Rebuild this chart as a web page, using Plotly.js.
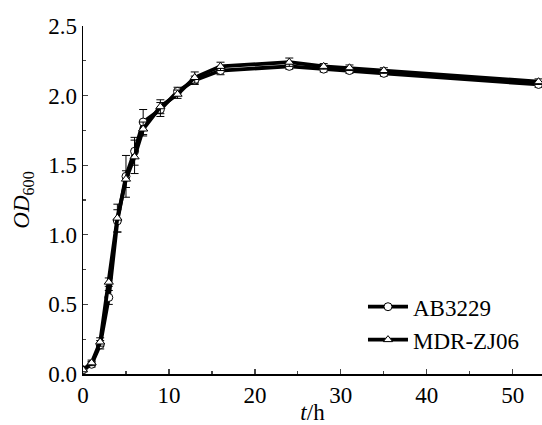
<!DOCTYPE html>
<html><head><meta charset="utf-8">
<script src="https://cdn.plot.ly/plotly-3.0.1.min.js"></script>
<style>html,body{margin:0;padding:0;background:#fff}#c{width:542px;height:425px}</style>
</head><body><div id="c"></div>
<script>
const time = [0,1,2,3,4,5,6,7,9,11,13,16,24,28,31,35,53];
const ab3229 = [0.03,0.07,0.21,0.55,1.10,1.42,1.60,1.81,1.90,2.03,2.11,2.18,2.21,2.19,2.18,2.16,2.08];
const ab3229Err = [0.01,0.02,0.03,0.05,0.08,0.15,0.10,0.09,0.05,0.03,0.03,0.03,0.02,0.02,0.02,0.02,0.02];
const mdr = [0.03,0.08,0.23,0.66,1.12,1.40,1.56,1.76,1.92,2.01,2.13,2.21,2.24,2.21,2.20,2.18,2.10];
const mdrErr = [0.01,0.02,0.03,0.03,0.10,0.06,0.12,0.05,0.05,0.03,0.04,0.03,0.03,0.02,0.02,0.02,0.02];
const names = ['AB3229','MDR-ZJ06'];

function tr(y, err, name, sym){
  return {x: time, y: y, name: name, type:'scatter', mode:'lines+markers',
    line:{color:'#000', width:3.8},
    marker:{symbol:sym, size:8, color:'#fff', line:{color:'#000', width:1}},
    error_y:{type:'data', array:err, visible:true, color:'#000', thickness:1, width:4}};
}
const data = [tr(ab3229, ab3229Err, names[0], 'circle'), tr(mdr, mdrErr, names[1], 'triangle-up')];
const F = 'Liberation Serif';
const layout = {
  width:542, height:425, margin:{l:83, r:0, t:26, b:51},
  paper_bgcolor:'#fff', plot_bgcolor:'#fff',
  font:{family:F, size:23, color:'#000'},
  showlegend:true,
  legend:{x:0.61, y:0.255, xanchor:'left', yanchor:'top', bgcolor:'rgba(0,0,0,0)', font:{family:F, size:23}, tracegroupgap:0, itemwidth:40},
  xaxis:{range:[0,53.4], tickvals:[0,10,20,30,40,50], ticks:'inside', ticklen:5, tickwidth:1.2,
    minor:{dtick:5, ticks:'inside', ticklen:3, tickwidth:1.2},
    showline:true, linecolor:'#000', linewidth:1.5, showgrid:false, zeroline:false,
    tickfont:{family:F, size:23}, title:{text:'<i>t</i>/h', font:{family:F, size:23}, standoff:0}},
  yaxis:{range:[0,2.5], tickvals:[0,0.5,1,1.5,2,2.5], ticktext:['0.0','0.5','1.0','1.5','2.0','2.5'],
    ticks:'inside', ticklen:5, tickwidth:1.2,
    minor:{dtick:0.25, ticks:'inside', ticklen:3, tickwidth:1.2},
    showline:true, linecolor:'#000', linewidth:1.5, showgrid:false, zeroline:false,
    tickfont:{family:F, size:23}, title:{text:'<i>OD</i><sub>600</sub>', font:{family:F, size:23}, standoff:12}}
};
Plotly.newPlot('c', data, layout, {staticPlot:true, displayModeBar:false});
</script></body></html>
